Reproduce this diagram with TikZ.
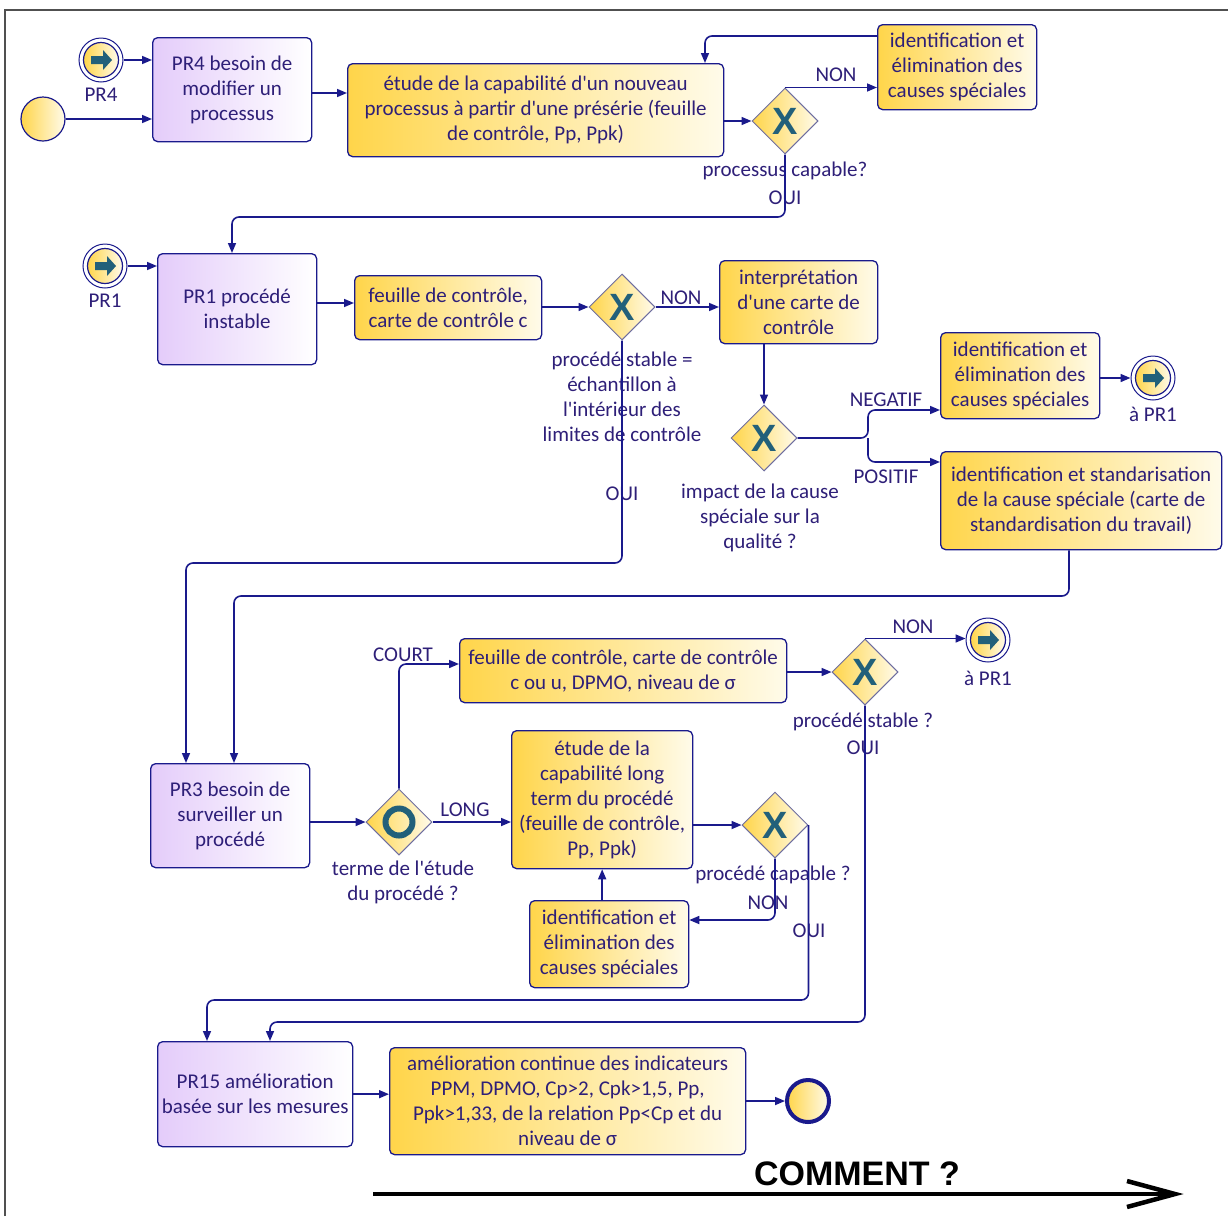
\documentclass[tikz,border=0pt]{standalone}
\usepackage{fontspec}
\setmainfont{Carlito}
\newfontfamily\arialfont{Liberation Sans}
\usetikzlibrary{arrows.meta,shapes.geometric}
\definecolor{navy}{HTML}{1A1A8C}
\definecolor{txt}{HTML}{2E1F78}
\definecolor{yel}{HTML}{FFD54A}
\definecolor{cream}{HTML}{FFFBEA}
\definecolor{lav}{HTML}{E4CCFA}
\definecolor{gwb}{HTML}{6E6EA0}
\definecolor{tealx}{HTML}{22607A}
\definecolor{framec}{HTML}{505050}
\newcommand\aq{\textquotesingle}
\newcommand\linkevent[3]{%
  \node[circle, draw=navy, line width=1pt, minimum size=44pt, inner sep=0pt] (#1) at (#2,#3) {};
  \node[circle, draw=navy, line width=1.2pt, minimum size=35pt, inner sep=0pt, left color=yel, right color=cream] (#1i) at (#1) {};
  \fill[tealx, shift={(#1)}] (-10,-4) -- (2,-4) -- (2,-10) -- (11,0) -- (2,10) -- (2,4) -- (-10,4) -- cycle;
}
\begin{document}
\begin{tikzpicture}[x=1pt,y=-1pt,
  every node/.style={font=\fontsize{21}{25}\selectfont, text=txt},
  task/.style={draw=navy, line width=1.3pt, rounded corners=5pt, align=center, anchor=north west, inner sep=2pt},
  ytask/.style={task, left color=yel, right color=cream},
  ptask/.style={task, left color=lav, right color=white},
  gw/.style={diamond, aspect=1, draw=gwb, line width=1pt, minimum width=66pt, minimum height=66pt, inner sep=0pt, left color=yel, right color=cream},
  gwx/.style={gw, font=\arialfont\bfseries\fontsize{38}{38}\selectfont, text=tealx},
  flow/.style={draw=navy, line width=1.6pt, rounded corners=7pt, -{Triangle[length=10pt,width=8pt]}},
  lbl/.style={align=center, inner sep=0pt},
]
\useasboundingbox (0,0) rectangle (1228,1216);
\fill[white] (0,0) rectangle (1228,1216);
\draw[framec, line width=2pt] (5,1216) -- (5,10) -- (1228,10);

% ---------- tasks
\node[ptask, minimum width=159pt, minimum height=104pt] (pr4box) at (152,37) {PR4 besoin de\\modifier un\\processus};
\node[ytask, minimum width=376pt, minimum height=93pt] (etude) at (347,63) {étude de la capabilité d\aq un nouveau\\processus à partir d\aq une présérie (feuille\\de contrôle, Pp, Ppk)};
\node[ytask, minimum width=159pt, minimum height=85pt] (id1) at (877,24) {identification et\\élimination des\\causes spéciales};
\node[ptask, minimum width=159pt, minimum height=111pt] (pr1box) at (157,253) {PR1 procédé\\instable};
\node[ytask, minimum width=187pt, minimum height=64pt] (fc1) at (354,275) {feuille de contrôle,\\carte de contrôle c};
\node[ytask, minimum width=158pt, minimum height=83pt] (interp) at (719,260) {interprétation\\d\aq une carte de\\contrôle};
\node[ytask, minimum width=159pt, minimum height=86pt] (id2) at (940,332) {identification et\\élimination des\\causes spéciales};
\node[ytask, minimum width=281pt, minimum height=98pt] (std) at (940,451) {identification et standarisation\\de la cause spéciale (carte de\\standardisation du travail)};
\node[ptask, minimum width=159pt, minimum height=104pt] (pr3box) at (150,763) {PR3 besoin de\\surveiller un\\procédé};
\node[ytask, minimum width=327pt, minimum height=64pt] (fc3) at (459,638) {feuille de contrôle, carte de contrôle\\c ou u, DPMO, niveau de σ};
\node[ytask, minimum width=181pt, minimum height=138pt] (et4) at (511,730) {étude de la\\capabilité long\\term du procédé\\(feuille de contrôle,\\Pp, Ppk)};
\node[ytask, minimum width=159pt, minimum height=87pt] (id3) at (529,900) {identification et\\élimination des\\causes spéciales};
\node[ptask, minimum width=195pt, minimum height=105pt] (pr15) at (157,1041) {PR15 amélioration\\basée sur les mesures};
\node[ytask, minimum width=356pt, minimum height=107pt] (amel) at (389,1047) {amélioration continue des indicateurs\\PPM, DPMO, Cp>2, Cpk>1,5, Pp,\\Ppk>1,33, de la relation Pp<Cp et du\\niveau de σ};

% ---------- gateways
\node[gwx] (d1) at (785,121) {X};
\node[gwx] (d2) at (622,307) {X};
\node[gwx] (d3) at (764,438) {X};
\node[gwx] (d4) at (865,672) {X};
\node[gwx] (d5) at (775,825) {X};
\node[gw] (dO) at (399,822) {};
\draw[tealx, line width=6pt] (dO.center) circle (13.5);

% ---------- events
\linkevent{pr4ev}{101}{60}
\linkevent{pr1ev}{105}{266}
\linkevent{toa}{1153}{378}
\linkevent{tob}{988}{640}
\node[circle, draw=navy, line width=1.2pt, minimum size=44pt, inner sep=0pt, left color=yel, right color=cream] (start) at (43,119) {};
\node[circle, draw=navy, line width=4pt, minimum size=42pt, inner sep=0pt, left color=yel, right color=cream] (endev) at (808,1101) {};

% ---------- labels
\node[lbl] (lpr4) at (101,95) {PR4};
\node[lbl] (lpr1) at (105,301) {PR1};
\node[lbl] (ltoa) at (1153,414) {à PR1};
\node[lbl] (ltob) at (988,678) {à PR1};
\node[lbl] (lnon1) at (836,75) {NON};
\node[lbl] (lq1) at (785,171) {processus capable?};
\node[lbl] (loui1) at (785,198) {OUI};
\node[lbl] (lnon2) at (681,298) {NON};
\node[lbl] (lq2) at (622,397) {procédé stable =\\échantillon à\\l\aq intérieur des\\limites de contrôle};
\node[lbl] (loui2) at (622,494) {OUI};
\node[lbl] (lq3) at (760,518) {impact de la cause\\spéciale sur la\\qualité ?};
\node[lbl] (lneg) at (886,400) {NEGATIF};
\node[lbl] (lpos) at (886,477) {POSITIF};
\node[lbl] (lcourt) at (403,655) {COURT};
\node[lbl] (llong) at (465,810) {LONG};
\node[lbl] (lqO) at (403,882) {terme de l\aq étude\\du procédé ?};
\node[lbl] (lnon4) at (913,627) {NON};
\node[lbl] (lq4) at (863,722) {procédé stable ?};
\node[lbl] (loui4) at (863,748) {OUI};
\node[lbl] (lq5) at (773,875) {procédé capable ?};
\node[lbl] (lnon5) at (768,903) {NON};
\node[lbl] (loui5) at (809,931) {OUI};
\node[lbl, text=black, font=\arialfont\bfseries\fontsize{34}{34}\selectfont] (lcomment) at (857,1174) {COMMENT ?};

% ---------- helper coordinates
\coordinate (h36) at (0,36);
\coordinate (v705) at (705,0);
\coordinate (b1) at (232,217);
\coordinate (b2) at (186,563);
\coordinate (v1069) at (1069,0);
\coordinate (b3) at (234,596);
\coordinate (split) at (868,438);
\coordinate (h410) at (0,410);
\coordinate (h462) at (0,462);
\coordinate (h664) at (0,664);
\coordinate (b4) at (270,1022);
\coordinate (h920) at (0,920);
\coordinate (b5) at (207,1000);
\coordinate (h93) at (0,93);
\coordinate (h303) at (0,303);

% ---------- connectors
\draw[flow] (pr4ev) -- (pr4ev -| pr4box.west);
\draw[flow] (start) -- (start -| pr4box.west);
\draw[flow] (pr4box.east |- h93) -- (etude.west |- h93);
\draw[flow] (etude.east |- d1) -- (d1.west);
\draw[flow] (d1.north) -- (d1.north -| id1.west);
\draw[flow] (id1.west |- h36) -| (etude.north -| v705);
\draw[flow] (d1.south) |- (b1) -- (b1 |- pr1box.north);

\draw[flow] (pr1ev) -- (pr1ev -| pr1box.west);
\draw[flow] (pr1box.east |- h303) -- (fc1.west |- h303);
\draw[flow] (fc1.east |- d2) -- (d2.west);
\draw[flow] (d2.east) -- (d2.east -| interp.west);
\draw[flow] (interp.south -| d3.north) -- (d3.north);
\draw[flow] (d3.east) -- (split) |- (id2.west |- h410);
\draw[flow] (split) |- (std.west |- h462);
\draw[flow] (id2.east |- toa) -- (toa);
\draw[flow] (d2.south) |- (b2) -- (b2 |- pr3box.north);
\draw[flow] (v1069 |- std.south) |- (b3) -- (b3 |- pr3box.north);

\draw[flow] (pr3box.east |- dO) -- (dO.west);
\draw[flow] (dO.north) |- (fc3.west |- h664);
\draw[flow] (dO.east) -- (dO.east -| et4.west);
\draw[flow] (fc3.east |- d4) -- (d4.west);
\draw[flow] (d4.north) -- (d4.north -| tob.west);
\draw[flow] (d4.south) |- (b4) -- (b4 |- pr15.north);
\draw[flow] (et4.east |- d5) -- (d5.west);
\draw[flow] (d5.south) |- (id3.east |- h920);
\draw[flow] (d5.east) |- (b5) -- (b5 |- pr15.north);
\draw[flow] (et4.south |- id3.north) -- (et4.south);

\draw[flow] (pr15.east) -- (pr15.east -| amel.west);
\draw[flow] (amel.east |- endev) -- (endev);

% ---------- COMMENT arrow
\coordinate (ca) at (373,1194);
\coordinate (cb) at (1175,1194);
\coordinate (cu) at (1127,1181);
\coordinate (cd) at (1127,1207);
\draw[black, line width=4pt] (ca) -- (cb);
\draw[black, line width=4.5pt, miter limit=20] (cu) -- (cb) -- (cd);
\end{tikzpicture}
\end{document}
